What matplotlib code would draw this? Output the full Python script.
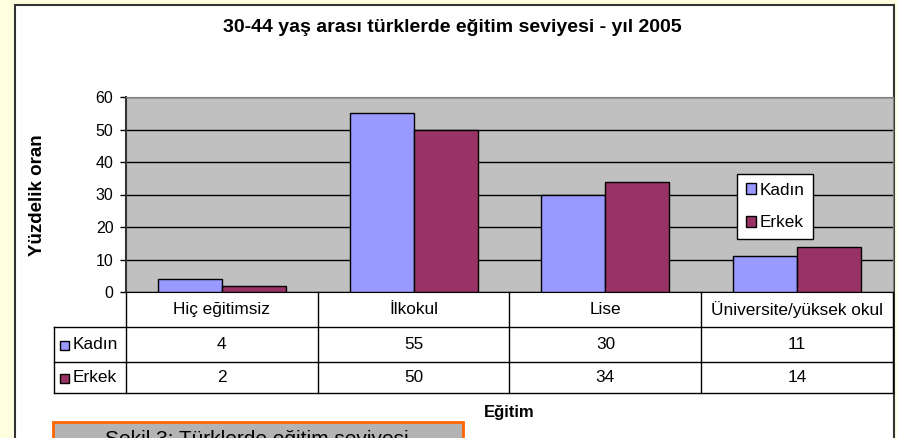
import matplotlib
matplotlib.use("Agg")
import matplotlib.pyplot as plt
from matplotlib.patches import Rectangle
import numpy as np

plt.rcParams['font.family'] = ['Liberation Sans', 'DejaVu Sans']

categories = ['Hiç eğitimsiz', 'İlkokul', 'Lise', 'Üniversite/yüksek okul']
series_names = ['Kadın', 'Erkek']
kadin = [4, 55, 30, 11]
erkek = [2, 50, 34, 14]
yticks = [0, 10, 20, 30, 40, 50, 60]
colors = ['#9999FF', '#993366']

title = '30-44 yaş arası türklerde eğitim seviyesi - yıl 2005'
ylabel = 'Yüzdelik oran'
xlabel = 'Eğitim'
caption = 'Şekil 3: Türklerde eğitim seviyesi'

W, H = 897, 438


def fx(x):
    return x / W


def fy(y):
    return 1 - y / H


fig = plt.figure(figsize=(W / 100, H / 100), dpi=100)
fig.patch.set_facecolor('#FFFFE0')

# white chart area with dark frame
fig.add_artist(Rectangle((fx(14.5), fy(445)), fx(879), 440 / H, transform=fig.transFigure,
                         facecolor='white', edgecolor='#333333', linewidth=1.5, zorder=0))

# plot area (pixels 126..893 x 97..292)
ax = fig.add_axes([fx(126), fy(292), fx(767), 195 / H])
ax.set_facecolor('#C0C0C0')
x = np.arange(len(categories))
bw = 1 / 3
ax.bar(x - bw / 2, kadin, bw, color=colors[0], edgecolor='black', linewidth=1, label=series_names[0], zorder=3)
ax.bar(x + bw / 2, erkek, bw, color=colors[1], edgecolor='black', linewidth=1, label=series_names[1], zorder=3)
ax.set_xlim(-0.5, len(categories) - 0.5)
ax.set_ylim(0, 60)
ax.set_yticks(yticks)
ax.set_xticks([])
ax.yaxis.grid(True, color='black', linewidth=1)
ax.set_axisbelow(True)
ax.tick_params(axis='y', length=4, width=1, pad=5, labelsize=11.5)
for side in ['top', 'right']:
    ax.spines[side].set_color('#808080')
ax.spines['left'].set_color('#333333')
ax.spines['left'].set_linewidth(1.5)
ax.spines['bottom'].set_color('black')

leg = ax.legend(loc='upper left', bbox_to_anchor=(fx(737), fy(174)), bbox_transform=fig.transFigure,
                fontsize=12.3, frameon=True, fancybox=False, framealpha=1, edgecolor='black',
                handlelength=0.6, handleheight=0.6, handletextpad=0.25, labelspacing=1.05,
                borderpad=0.5, borderaxespad=0)
leg.get_frame().set_linewidth(1)

# data table below the plot
cat_w = 767 / len(categories)
lab_w = 72 / cat_w
tax = fig.add_axes([fx(54), fy(393), fx(839), 101 / H])
tax.set_xlim(-0.5 - lab_w, len(categories) - 0.5)
tax.set_ylim(101, 0)
tax.axis('off')
rows = [0, 35, 70, 101]
right = len(categories) - 0.5
for i in range(len(categories) + 1):
    tax.plot([i - 0.5, i - 0.5], [0, 101], color='black', lw=1, clip_on=False)
tax.plot([-0.5 - lab_w, -0.5 - lab_w], [rows[1], rows[3]], color='black', lw=1, clip_on=False)
for r in rows[1:]:
    tax.plot([-0.5 - lab_w, right], [r, r], color='black', lw=1, clip_on=False)
for i, c in enumerate(categories):
    tax.text(i, (rows[0] + rows[1]) / 2, c, ha='center', va='center', fontsize=12.4)
for k, vals in enumerate([kadin, erkek]):
    yc = (rows[k + 1] + rows[k + 2]) / 2
    for i, v in enumerate(vals):
        tax.text(i, yc, str(v), ha='center', va='center', fontsize=12.4)
    sq = 9 / cat_w
    tax.add_patch(Rectangle((-0.5 - lab_w + 6 / cat_w, yc - 4.5 + 1), sq, 9, facecolor=colors[k],
                            edgecolor='black', lw=1, clip_on=False))
    tax.text(-0.5 - lab_w + 19 / cat_w, yc, series_names[k], ha='left', va='center', fontsize=12.4)

# texts
fig.text(fx(452), fy(28), title, ha='center', va='center', fontsize=14, fontweight='bold')
fig.text(fx(38), fy(195), ylabel, ha='center', va='center', rotation=90, fontsize=13.5, fontweight='bold')
fig.text(fx(509), fy(412), xlabel, ha='center', va='center', fontsize=12, fontweight='bold')

# caption box (cut off at the bottom)
fig.add_artist(Rectangle((fx(52.5), fy(460)), fx(410), 38 / H, transform=fig.transFigure,
                         facecolor='#B3B3B3', edgecolor='#FF6600', linewidth=2, zorder=1))
fig.text(fx(257), fy(445), caption, ha='center', va='baseline', fontsize=15, zorder=2)

fig.savefig('out.png', dpi=100, facecolor=fig.get_facecolor())
